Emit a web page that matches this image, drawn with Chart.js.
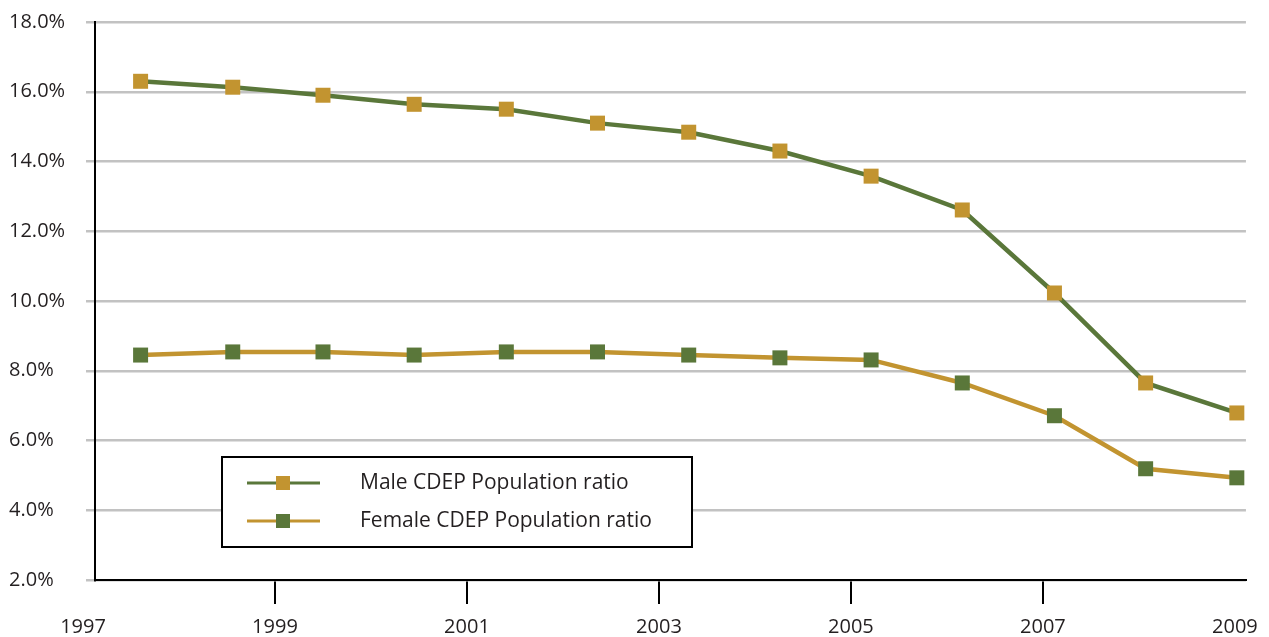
<!DOCTYPE html>
<html>
<head>
<meta charset="utf-8">
<script src="https://cdn.jsdelivr.net/npm/chart.js@4.4.1/dist/chart.umd.min.js"></script>
<style>
  html, body { margin: 0; padding: 0; background: #fff; }
  #wrap { width: 1269px; height: 637px; position: relative; }
</style>
</head>
<body>
<div id="wrap"><canvas id="chart"></canvas></div>
<script>
// data
const yearTicks = [1997, 1999, 2001, 2003, 2005, 2007, 2009];
const pointYears = [1997.60, 1998.56, 1999.50, 2000.45, 2001.41, 2002.36, 2003.31, 2004.26, 2005.21, 2006.16, 2007.12, 2008.07, 2009.02];
const maleRatio = [16.30, 16.13, 15.90, 15.64, 15.50, 15.10, 14.84, 14.30, 13.58, 12.61, 10.23, 7.65, 6.79];
const femaleRatio = [8.45, 8.54, 8.54, 8.45, 8.54, 8.54, 8.45, 8.37, 8.31, 7.65, 6.71, 5.19, 4.93];
const seriesLabels = ['Male CDEP Population ratio', 'Female CDEP Population ratio'];

const green = '#5a773a';
const gold = '#c29430';
const textColor = '#231f20';
const fontFamily = '"Open Sans", "Noto Sans", sans-serif';

const xMin = 1997.125;
const xMax = 2009.115;

function toPoints(values) {
  return values.map((v, i) => ({ x: pointYears[i], y: v }));
}

// legend box drawn inside the plot, like the original
const boxLegend = {
  id: 'boxLegend',
  afterDatasetsDraw(chart) {
    const ctx = chart.ctx;
    const left = 222, top = 457, width = 470, height = 90;
    ctx.save();
    ctx.fillStyle = '#fff';
    ctx.fillRect(left, top, width, height);
    ctx.strokeStyle = '#000';
    ctx.lineWidth = 2;
    ctx.strokeRect(left, top, width, height);

    const rows = [483, 521];
    chart.data.datasets.forEach((ds, i) => {
      const y = rows[i];
      ctx.strokeStyle = ds.borderColor;
      ctx.lineWidth = 3;
      ctx.beginPath();
      ctx.moveTo(247, y);
      ctx.lineTo(320, y);
      ctx.stroke();
      ctx.fillStyle = ds.pointBackgroundColor;
      ctx.fillRect(283 - 7, y - 7, 14, 14);
      ctx.fillStyle = textColor;
      ctx.font = '21px ' + fontFamily;
      ctx.textBaseline = 'middle';
      ctx.fillText(ds.label, 360, y);
    });
    ctx.restore();
  }
};

new Chart(document.getElementById('chart'), {
  type: 'line',
  data: {
    datasets: [
      {
        label: seriesLabels[0],
        data: toPoints(maleRatio),
        borderColor: green,
        backgroundColor: gold,
        pointBackgroundColor: gold,
        pointBorderColor: gold,
        pointBorderWidth: 0,
        pointStyle: 'rect',
        pointRadius: 10.6,
        borderWidth: 4.5,
        tension: 0,
      },
      {
        label: seriesLabels[1],
        data: toPoints(femaleRatio),
        borderColor: gold,
        backgroundColor: green,
        pointBackgroundColor: green,
        pointBorderColor: green,
        pointBorderWidth: 0,
        pointStyle: 'rect',
        pointRadius: 10.6,
        borderWidth: 4.5,
        tension: 0,
      }
    ]
  },
  options: {
    responsive: true,
    maintainAspectRatio: false,
    animation: false,
    layout: { padding: { left: 9, top: 22, right: 23, bottom: 0 } },
    plugins: {
      legend: { display: false },
      tooltip: { enabled: false },
    },
    scales: {
      x: {
        type: 'linear',
        min: xMin,
        max: xMax,
        afterBuildTicks: (scale) => {
          scale.ticks = yearTicks.map(v => ({ value: v }));
        },
        afterFit: (scale) => { scale.height = 57; },
        grid: {
          drawOnChartArea: false,
          tickLength: 24,
          lineWidth: 2,
          // no tick marks under the first and last year labels
          color: (c) => (c.index === 0 || c.index === yearTicks.length - 1) ? 'rgba(0,0,0,0)' : '#000',
        },
        border: { color: '#000', width: 2 },
        ticks: {
          autoSkip: false,
          maxRotation: 0,
          padding: 11,
          color: textColor,
          font: { family: fontFamily, size: 20 },
          callback: (v) => String(v),
        },
      },
      y: {
        min: 2,
        max: 18,
        afterFit: (scale) => { scale.width = 86; },
        grid: {
          color: '#c2c2c2',
          lineWidth: 2.5,
          tickLength: 9,
        },
        border: { color: '#000', width: 2 },
        ticks: {
          stepSize: 2,
          crossAlign: 'far',
          color: textColor,
          font: { family: fontFamily, size: 20 },
          callback: (v) => v.toFixed(1) + '%',
        },
      },
    },
  },
  plugins: [boxLegend],
});
</script>
</body>
</html>
